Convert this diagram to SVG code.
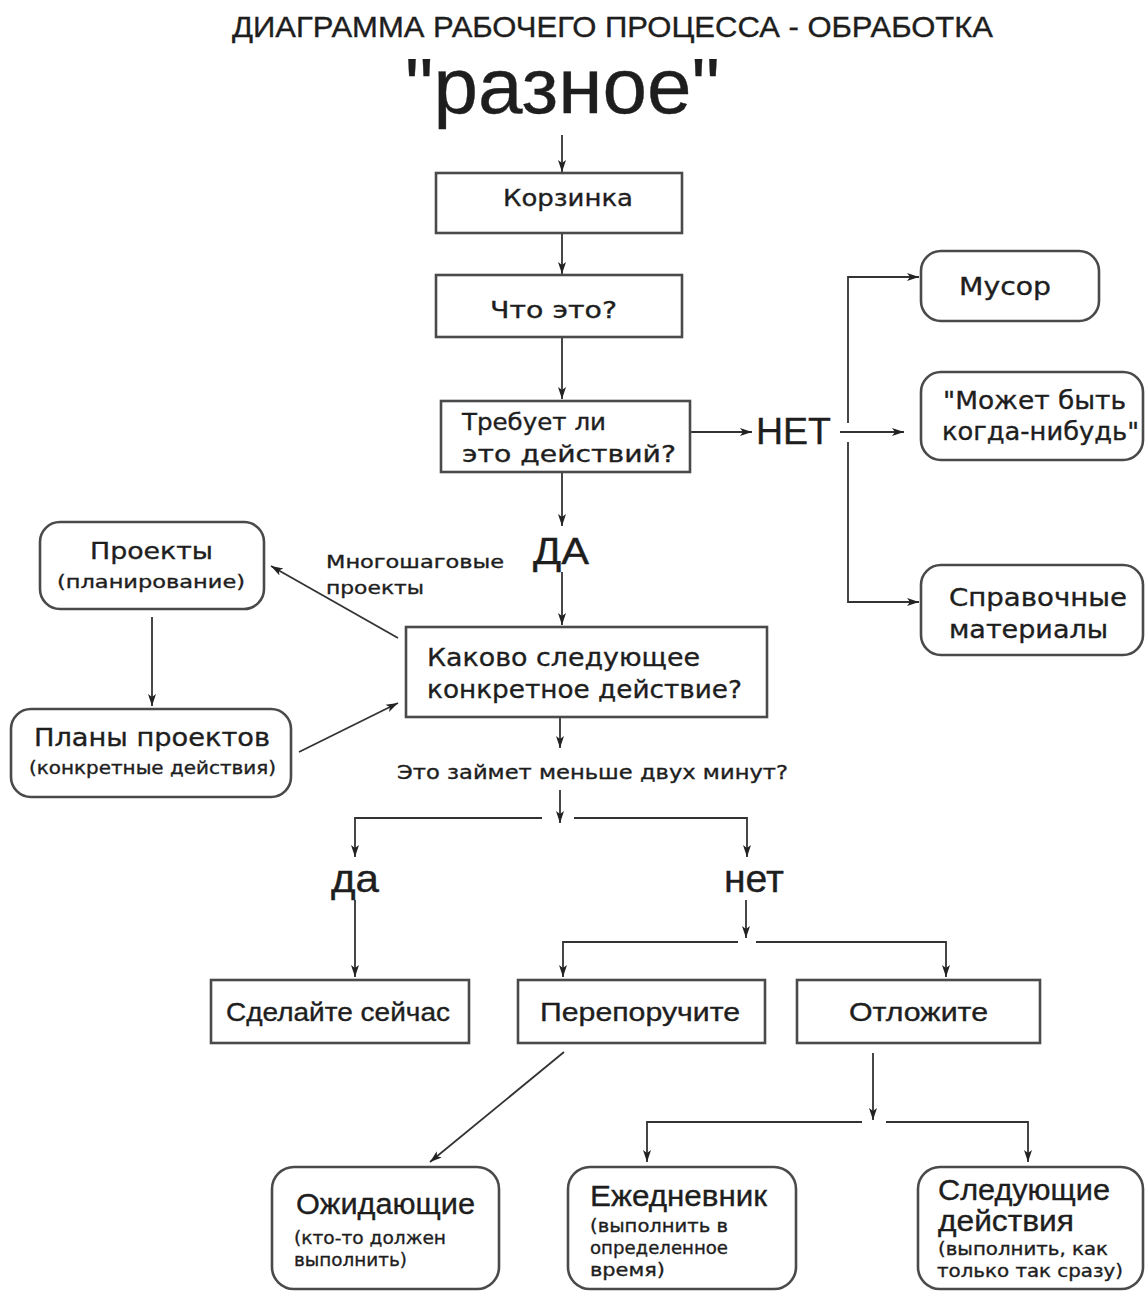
<svg xmlns="http://www.w3.org/2000/svg" width="1145" height="1292" viewBox="0 0 1145 1292">
<defs>
<marker id="ah" viewBox="0 0 12 10" refX="12" refY="5" markerWidth="12" markerHeight="10" markerUnits="userSpaceOnUse" orient="auto">
<path d="M0,1 L12,5 L0,9 L3,5 z" fill="#222"/>
</marker>
<style>
.box{fill:#fff;stroke:#4a4a4a;stroke-width:2.6}
.ln{fill:none;stroke:#333;stroke-width:1.8}
.ar{fill:none;stroke:#333;stroke-width:1.8;marker-end:url(#ah)}
text{fill:#1e1e1e;stroke:#1e1e1e;stroke-width:0.35}
.w{font-family:"DejaVu Sans","Liberation Sans",sans-serif}
.n{font-family:"Liberation Sans","DejaVu Sans",sans-serif}
</style>
</defs>
<rect width="1145" height="1292" fill="#fff"/>

<g id="title">
<text class="n" x="232" y="37" font-size="29" textLength="761" lengthAdjust="spacingAndGlyphs">ДИАГРАММА РАБОЧЕГО ПРОЦЕССА - ОБРАБОТКА</text>
</g>
<g id="raznoe">
<text class="n" x="405" y="113" font-size="78" textLength="315" lengthAdjust="spacingAndGlyphs">"разное"</text>
</g>

<g id="connectors">
<path class="ar" d="M562,135 V172"/>
<path class="ar" d="M562,233 V274"/>
<path class="ar" d="M562,337 V399"/>
<path class="ar" d="M690,432 H752"/>
<path class="ar" d="M562,472 V526"/>
<path class="ar" d="M562,572 V625"/>
<path class="ar" d="M848,423 V277 H919"/>
<path class="ar" d="M840,432 H904"/>
<path class="ar" d="M848,442 V602 H919"/>
<path class="ar" d="M398,638 L271,566"/>
<path class="ar" d="M152,617 V706"/>
<path class="ar" d="M299,752 L398,703"/>
<path class="ar" d="M560,717 V748"/>
<path class="ar" d="M560,790 V823"/>
<path class="ar" d="M542,818 H355 V857"/>
<path class="ar" d="M574,818 H747 V857"/>
<path class="ar" d="M355,900 V977"/>
<path class="ar" d="M746,900 V938"/>
<path class="ar" d="M738,942 H563 V977"/>
<path class="ar" d="M756,942 H946 V977"/>
<path class="ar" d="M564,1052 L430,1162"/>
<path class="ar" d="M873,1053 V1120"/>
<path class="ar" d="M862,1122 H647 V1162"/>
<path class="ar" d="M886,1122 H1028 V1162"/>
</g>

<g id="korzinka">
<rect class="box" x="436" y="173" width="246" height="60"/>
<text class="w" x="503" y="206" font-size="23" textLength="130" lengthAdjust="spacingAndGlyphs">Корзинка</text>
</g>
<g id="chto">
<rect class="box" x="436" y="275" width="246" height="62"/>
<text class="w" x="490" y="318" font-size="23" textLength="127" lengthAdjust="spacingAndGlyphs">Что это?</text>
</g>
<g id="trebuet">
<rect class="box" x="441" y="401" width="249" height="71"/>
<text class="w" x="462" y="430" font-size="23" textLength="144" lengthAdjust="spacingAndGlyphs">Требует ли</text>
<text class="w" x="462" y="462" font-size="23" textLength="214" lengthAdjust="spacingAndGlyphs">это действий?</text>
</g>
<g id="net">
<text class="n" x="756" y="444" font-size="36" textLength="75" lengthAdjust="spacingAndGlyphs">НЕТ</text>
</g>
<g id="musor">
<rect class="box" x="921" y="251" width="178" height="70" rx="20"/>
<text class="w" x="959" y="295" font-size="24" textLength="92" lengthAdjust="spacingAndGlyphs">Мусор</text>
</g>
<g id="mozhet">
<rect class="box" x="921" y="372" width="222" height="88" rx="20"/>
<text class="w" x="943" y="409" font-size="24" textLength="183" lengthAdjust="spacingAndGlyphs">"Может быть</text>
<text class="w" x="942" y="440" font-size="24" textLength="197" lengthAdjust="spacingAndGlyphs">когда-нибудь"</text>
</g>
<g id="spravochnye">
<rect class="box" x="921" y="565" width="222" height="90" rx="20"/>
<text class="w" x="949" y="606" font-size="24" textLength="178" lengthAdjust="spacingAndGlyphs">Справочные</text>
<text class="w" x="949" y="638" font-size="24" textLength="159" lengthAdjust="spacingAndGlyphs">материалы</text>
</g>
<g id="da-big">
<text class="n" x="533" y="564" font-size="36" textLength="56" lengthAdjust="spacingAndGlyphs">ДА</text>
</g>
<g id="mnogoshag">
<text class="w" x="326" y="568" font-size="18" textLength="178" lengthAdjust="spacingAndGlyphs">Многошаговые</text>
<text class="w" x="326" y="594" font-size="18" textLength="98" lengthAdjust="spacingAndGlyphs">проекты</text>
</g>
<g id="proekty">
<rect class="box" x="40" y="522" width="224" height="87" rx="20"/>
<text class="w" x="90" y="559" font-size="23" textLength="123" lengthAdjust="spacingAndGlyphs">Проекты</text>
<text class="w" x="57" y="588" font-size="18" textLength="188" lengthAdjust="spacingAndGlyphs">(планирование)</text>
</g>
<g id="plany">
<rect class="box" x="11" y="709" width="280" height="88" rx="20"/>
<text class="w" x="34" y="746" font-size="24" textLength="236" lengthAdjust="spacingAndGlyphs">Планы проектов</text>
<text class="w" x="29" y="774" font-size="17" textLength="247" lengthAdjust="spacingAndGlyphs">(конкретные действия)</text>
</g>
<g id="kakovo">
<rect class="box" x="406" y="627" width="361" height="90"/>
<text class="w" x="427" y="666" font-size="25" textLength="273" lengthAdjust="spacingAndGlyphs">Каково следующее</text>
<text class="w" x="427" y="698" font-size="25" textLength="315" lengthAdjust="spacingAndGlyphs">конкретное действие?</text>
</g>
<g id="dvuh">
<text class="w" x="397" y="779" font-size="19" textLength="391" lengthAdjust="spacingAndGlyphs">Это займет меньше двух минут?</text>
</g>
<g id="da-small">
<text class="n" x="331" y="892" font-size="38" textLength="48" lengthAdjust="spacingAndGlyphs">да</text>
</g>
<g id="net-small">
<text class="n" x="724" y="892" font-size="38" textLength="60" lengthAdjust="spacingAndGlyphs">нет</text>
</g>
<g id="sdelayte">
<rect class="box" x="211" y="980" width="258" height="63"/>
<text class="n" x="226" y="1021" font-size="25" textLength="224" lengthAdjust="spacingAndGlyphs">Сделайте сейчас</text>
</g>
<g id="pereporuchite">
<rect class="box" x="518" y="980" width="247" height="63"/>
<text class="n" x="540" y="1021" font-size="25" textLength="200" lengthAdjust="spacingAndGlyphs">Перепоручите</text>
</g>
<g id="otlozhite">
<rect class="box" x="797" y="980" width="243" height="63"/>
<text class="n" x="849" y="1021" font-size="25" textLength="139" lengthAdjust="spacingAndGlyphs">Отложите</text>
</g>
<g id="ozhidayuschie">
<rect class="box" x="272" y="1167" width="227" height="122" rx="22"/>
<text class="n" x="296" y="1214" font-size="29" textLength="179" lengthAdjust="spacingAndGlyphs">Ожидающие</text>
<text class="w" x="294" y="1244" font-size="18" textLength="152" lengthAdjust="spacingAndGlyphs">(кто-то должен</text>
<text class="w" x="294" y="1266" font-size="18" textLength="113" lengthAdjust="spacingAndGlyphs">выполнить)</text>
</g>
<g id="ezhednevnik">
<rect class="box" x="568" y="1167" width="228" height="122" rx="22"/>
<text class="n" x="590" y="1206" font-size="29" textLength="177" lengthAdjust="spacingAndGlyphs">Ежедневник</text>
<text class="w" x="590" y="1232" font-size="18" textLength="138" lengthAdjust="spacingAndGlyphs">(выполнить в</text>
<text class="w" x="590" y="1254" font-size="18" textLength="138" lengthAdjust="spacingAndGlyphs">определенное</text>
<text class="w" x="590" y="1276" font-size="18" textLength="75" lengthAdjust="spacingAndGlyphs">время)</text>
</g>
<g id="sleduyuschie">
<rect class="box" x="918" y="1167" width="225" height="122" rx="22"/>
<text class="n" x="938" y="1200" font-size="29" textLength="172" lengthAdjust="spacingAndGlyphs">Следующие</text>
<text class="n" x="938" y="1231" font-size="29" textLength="136" lengthAdjust="spacingAndGlyphs">действия</text>
<text class="w" x="938" y="1255" font-size="17" textLength="170" lengthAdjust="spacingAndGlyphs">(выполнить, как</text>
<text class="w" x="937" y="1277" font-size="17" textLength="186" lengthAdjust="spacingAndGlyphs">только так сразу)</text>
</g>
</svg>
